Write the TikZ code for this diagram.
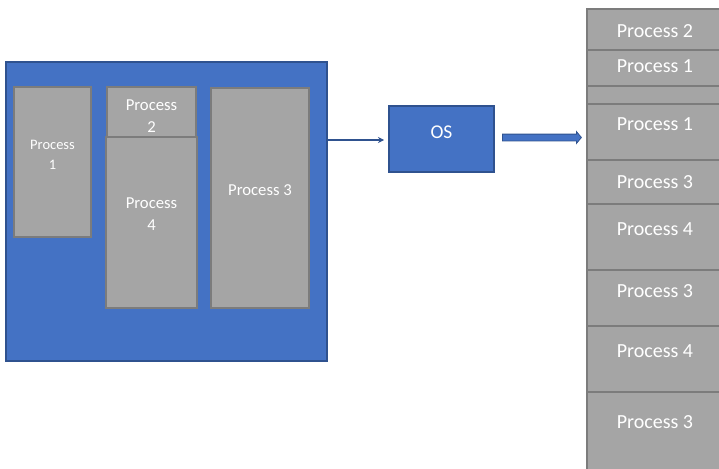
\documentclass[tikz,border=0pt]{standalone}
\usepackage{fontspec}
\setmainfont{Carlito}
\usetikzlibrary{shapes.arrows,arrows.meta,calc}
\definecolor{accblue}{HTML}{4472C4}
\definecolor{accdark}{HTML}{2F528F}
\definecolor{procgray}{HTML}{A5A5A5}
\definecolor{procedge}{HTML}{7C7C7C}
\tikzset{
  bluebox/.style={draw=accdark, fill=accblue, line width=1.3pt, inner sep=0pt, outer sep=0pt},
  procbox/.style={draw=procedge, fill=procgray, line width=1.5pt, inner sep=0pt, outer sep=0pt},
  lbl/.style={text=white, inner sep=0pt, anchor=base},
  smalltxt/.style={lbl, font=\fontsize{14.5}{17}\selectfont},
  midtxt/.style={lbl, font=\fontsize{16.7}{20}\selectfont},
  bigtxt/.style={lbl, font=\fontsize{20}{24}\selectfont},
  conn/.style={draw=accdark, line width=2.6pt, -{Stealth[length=6pt,width=6pt]}},
}
\newcommand{\boxat}[6]{% style, name, x1, y1, x2, y2
  \node[#1, minimum width={(#5-#3)*1pt}, minimum height={(#6-#4)*1pt}] (#2) at ({(#3+#5)/2},{(#4+#6)/2}) {};}
\begin{document}
\begin{tikzpicture}[x=1pt,y=-1pt]
\useasboundingbox (0,0) rectangle (719,468);
% big memory box
\boxat{bluebox}{mem}{6}{62}{327}{361}
\boxat{procbox}{pa}{14}{87}{91}{237}
\boxat{procbox}{pb}{107}{87}{196}{137}
\boxat{procbox}{pd}{106}{137}{197}{308}
\boxat{procbox}{pc}{211}{88}{309}{308}
\node[smalltxt] (pa1) at (52.5,149.8) {Process};
\node[smalltxt] (pa2) at (52.5,169.8) {1};
\node[midtxt] (pb1) at (151.5,110.6) {Process};
\node[midtxt] (pb2) at (151.5,132.6) {2};
\node[midtxt] (pd1) at (151.5,208.6) {Process};
\node[midtxt] (pd2) at (151.5,230.6) {4};
\node[midtxt] (pc1) at (260,195.6) {Process 3};
% OS
\boxat{bluebox}{os}{389}{106}{494}{172}
\node[lbl, font=\fontsize{19.5}{23}\selectfont] (ostxt) at (441.5,138.5) {OS};
% right column
\boxat{procbox}{r1}{587}{9}{735}{50}
\boxat{procbox}{r2}{587}{50}{735}{86}
\boxat{procbox}{r3}{587}{86}{735}{104}
\boxat{procbox}{r4}{587}{104}{735}{160}
\boxat{procbox}{r5}{587}{160}{735}{204}
\boxat{procbox}{r6}{587}{204}{735}{270}
\boxat{procbox}{r7}{587}{270}{735}{326}
\boxat{procbox}{r8}{587}{326}{735}{392}
\boxat{procbox}{r9}{587}{392}{735}{475}
\node[bigtxt] (t1) at (655,37.4) {Process 2};
\node[bigtxt] (t2) at (655,72.4) {Process 1};
\node[bigtxt] (t4) at (655,130.4) {Process 1};
\node[bigtxt] (t5) at (655,188.4) {Process 3};
\node[bigtxt] (t6) at (655,235.4) {Process 4};
\node[bigtxt] (t7) at (655,297.4) {Process 3};
\node[bigtxt] (t8) at (655,357.4) {Process 4};
\node[bigtxt] (t9) at (655,428.4) {Process 3};
% connectors
\draw[conn, shorten >=5pt] (mem.east |- 0,140) coordinate (a1) -- (os.west |- a1);
\node[single arrow, draw=accdark, fill=accblue, line width=0.8pt,
      minimum height=79pt, minimum width=11pt, inner sep=0pt, inner ysep=3pt,
      single arrow head extend=2.5pt, single arrow tip angle=100, outer sep=0pt]
      (blk) at ($(os.east)!0.5!(r4.west |- os.east)+(0,-1.5)$) {};
\end{tikzpicture}
\end{document}
